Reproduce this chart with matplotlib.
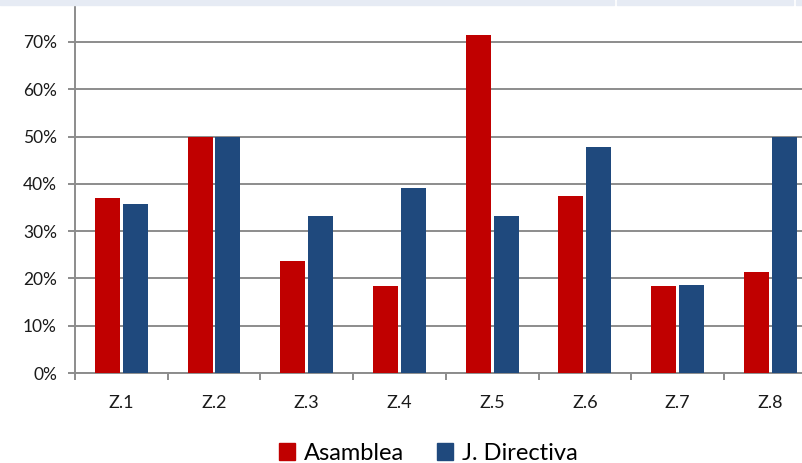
import matplotlib.pyplot as plt
import matplotlib.patches as mpatches
import numpy as np

plt.rcParams['font.family'] = ['Lato', 'DejaVu Sans']

zonas = ['Z.1', 'Z.2', 'Z.3', 'Z.4', 'Z.5', 'Z.6', 'Z.7', 'Z.8']
asamblea = [37.0, 50.0, 23.7, 18.3, 71.4, 37.5, 18.5, 21.3]
directiva = [35.7, 50.0, 33.3, 39.1, 33.3, 47.8, 18.7, 50.0]
y_ticks = [0, 10, 20, 30, 40, 50, 60, 70]

red = '#C00000'
blue = '#1F497D'
grid_col = '#8C8C8C'

fig = plt.figure(figsize=(8.02, 4.63), dpi=100)
# axes runs past the right edge, like the cropped original
ax = fig.add_axes([75 / 802, 90 / 463, 741.6 / 802, 366 / 463])

x = np.arange(len(zonas))
width = 0.27
ax.bar(x - 0.15, asamblea, width=width, color=red, label='Asamblea', zorder=3)
ax.bar(x + 0.15, directiva, width=width, color=blue, label='J. Directiva', zorder=3)

ax.set_xlim(-0.5, 7.5)
ax.set_ylim(0, 77.4)
ax.set_yticks(y_ticks)
ax.set_yticklabels([f'{v}%' for v in y_ticks])
ax.yaxis.grid(True, color=grid_col, linewidth=1.4, zorder=0)

ax.set_xticks(x)
ax.set_xticklabels(zonas)
ax.set_xticks(np.arange(-0.5, 8, 1), minor=True)
ax.tick_params(axis='x', which='major', length=0, pad=16, labelsize=13, labelcolor='#1a1a1a')
ax.tick_params(axis='x', which='minor', length=5, width=1.4, color=grid_col)
ax.tick_params(axis='y', length=5, width=1.4, color=grid_col, pad=8, labelsize=12.5, labelcolor='#1a1a1a')

for s in ['top', 'right']:
    ax.spines[s].set_visible(False)
for s in ['left', 'bottom']:
    ax.spines[s].set_color(grid_col)
    ax.spines[s].set_linewidth(1.4)

handles = [mpatches.Patch(color=red, label='Asamblea'),
           mpatches.Patch(color=blue, label='J. Directiva')]
fig.legend(handles=handles, loc='center', bbox_to_anchor=(428 / 802, 1 - 453 / 463),
           ncol=2, frameon=False, fontsize=17, handlelength=0.7, handleheight=0.7,
           handletextpad=0.35, columnspacing=1.4)

# light band along the top edge
for x0, x1 in [(0, 614), (617, 793), (796, 802)]:
    fig.patches.append(mpatches.Rectangle((x0 / 802, 1 - 5 / 463), (x1 - x0) / 802, 5 / 463,
                                          transform=fig.transFigure, color='#E6EBF4', zorder=0))

fig.savefig('out.png', dpi=100)
